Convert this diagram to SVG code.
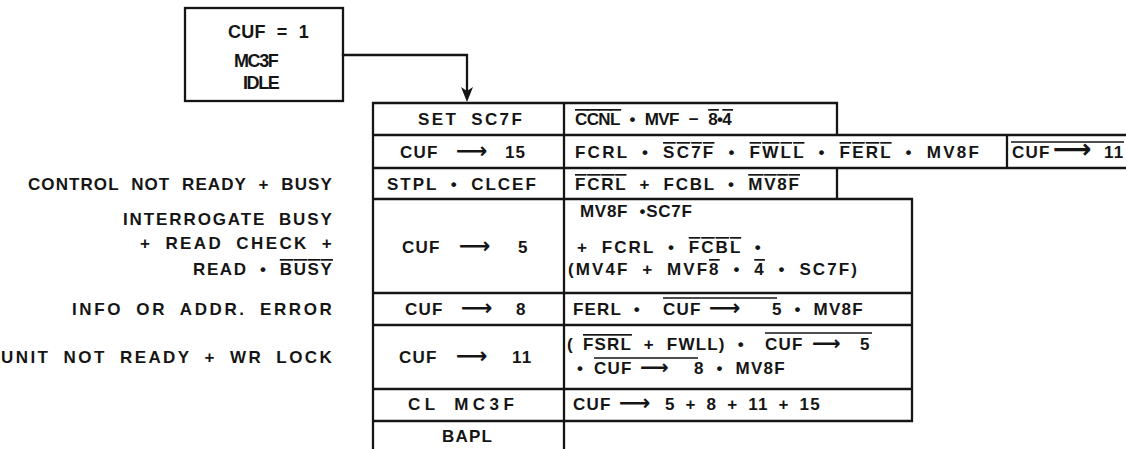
<svg xmlns="http://www.w3.org/2000/svg" width="1126" height="449" viewBox="0 0 1126 449">
<style>
.t{font-family:"Liberation Sans",Arial,sans-serif;font-weight:bold;font-size:17px;fill:#151515;letter-spacing:1.2px;word-spacing:6px}
.tb{font-size:18px}
.n{word-spacing:0}
.ar{font-family:"DejaVu Sans",sans-serif;font-weight:bold;font-size:22px;letter-spacing:0;word-spacing:0}
.b{fill:none;stroke:#151515;stroke-width:2.3;stroke-linecap:square}
.ov{stroke:#151515;stroke-width:1.7}
.o{text-decoration:overline}
</style>
<rect width="1126" height="449" fill="#fff"/>
<g id="start">
<rect class="b" x="185" y="8" width="158" height="93"/>
<text class="t tb" x="228" y="38" textLength="82" lengthAdjust="spacing">CUF = 1</text>
<text class="t tb" x="234" y="67" textLength="46" lengthAdjust="spacing">MC3F</text>
<text class="t tb" x="243" y="89" textLength="38" lengthAdjust="spacing">IDLE</text>
</g>
<g id="connectors">
<path class="b" d="M343,55 H467 V90"/>
<polygon points="467,102 461,87 467,91 473,87" fill="#151515"/>
</g>
<g id="table">
<path class="b" d="M373,103 V449 M564,103 V449 M373,103 H837 V135 M373,135 H1126 M373,168 H1126 M1007,135 V168 M837,168 V199 M373,199 H912 V421 M373,293 H912 M373,325 H912 M373,389 H912 M373,421 H912"/>
</g>
<g id="row-setsc7f">
<text class="t" x="418" y="125" textLength="105" lengthAdjust="spacing">SET SC7F</text>
<text class="t" x="575" y="125" textLength="158" lengthAdjust="spacing"><tspan class="o">CCNL</tspan> • MVF − <tspan class="o">8</tspan>•<tspan class="o">4</tspan></text>
</g>
<g id="row-cuf15">
<text class="t" y="158"><tspan class="n" x="400">CUF </tspan><tspan class="ar" x="456">⟶</tspan><tspan class="n" x="499"> 15</tspan></text>
<text class="t" x="575" y="158" textLength="405" lengthAdjust="spacing">FCRL • <tspan class="o">SC7F</tspan> • <tspan class="o">FWLL</tspan> • <tspan class="o">FERL</tspan> • MV8F</text>
<text class="t" y="158"><tspan class="n" x="1012">CUF</tspan><tspan class="ar" x="1053" style="font-size:27px">⟶</tspan><tspan class="n" x="1104">11</tspan></text>
<line class="ov" x1="1011" y1="142" x2="1124" y2="142"/>
</g>
<g id="row-stpl">
<text class="t" x="387" y="190" textLength="150" lengthAdjust="spacing">STPL • CLCEF</text>
<text class="t" x="575" y="190" textLength="225" lengthAdjust="spacing"><tspan class="o">FCRL</tspan> + FCBL • <tspan class="o">MV8F</tspan></text>
</g>
<g id="row-cuf5">
<text class="t" y="253"><tspan class="n" x="402">CUF </tspan><tspan class="ar" x="459">⟶</tspan><tspan class="n" x="512"> 5</tspan></text>
<text class="t" x="580" y="217" textLength="113" lengthAdjust="spacing">MV8F •SC7F</text>
<text class="t" x="577" y="253" textLength="185" lengthAdjust="spacing">+ FCRL • <tspan class="o">FCBL</tspan> •</text>
<text class="t" x="568" y="275" textLength="290" lengthAdjust="spacing">(MV4F + MVF<tspan class="o">8</tspan> • <tspan class="o">4</tspan> • SC7F)</text>
</g>
<g id="row-cuf8">
<text class="t" y="315"><tspan class="n" x="405">CUF </tspan><tspan class="ar" x="461">⟶</tspan><tspan class="n" x="510"> 8</tspan></text>
<text class="t" y="315"><tspan x="573">FERL • </tspan><tspan class="n" x="663">CUF </tspan><tspan class="ar" x="709">⟶</tspan><tspan x="760"> 5 • MV8F</tspan></text>
<line class="ov" x1="663" y1="298" x2="777" y2="298"/>
</g>
<g id="row-cuf11">
<text class="t" y="363"><tspan class="n" x="399">CUF </tspan><tspan class="ar" x="456">⟶</tspan><tspan class="n" x="506"> 11</tspan></text>
<text class="t" y="350"><tspan class="n" x="567">( </tspan><tspan x="583" class="o">FSRL</tspan> + FWLL) • <tspan class="n" x="765">CUF </tspan><tspan class="ar" x="812" style="font-size:20px">⟶</tspan><tspan class="n" x="854"> 5</tspan></text>
<line class="ov" x1="765" y1="333" x2="872" y2="333"/>
<text class="t" y="374"><tspan class="n" x="577">• </tspan><tspan class="n" x="594">CUF </tspan><tspan class="ar" x="640" style="font-size:20px">⟶</tspan><tspan x="682"> 8 • MV8F</tspan></text>
<line class="ov" x1="594" y1="358" x2="698" y2="358"/>
</g>
<g id="row-clmc3f">
<text class="t" x="408" y="410" textLength="107" lengthAdjust="spacing">CL MC3F</text>
<text class="t" y="410"><tspan class="n" x="573">CUF </tspan><tspan class="ar" x="619">⟶</tspan><tspan x="655" style="word-spacing:4px"> 5 + 8 + 11 + 15</tspan></text>
</g>
<g id="row-bapl">
<text class="t" x="442" y="442" textLength="51" lengthAdjust="spacing">BAPL</text>
</g>
<g id="labels">
<text class="t" x="28" y="190" textLength="305" lengthAdjust="spacing">CONTROL NOT READY + BUSY</text>
<text class="t" x="123" y="225" textLength="210" lengthAdjust="spacing">INTERROGATE BUSY</text>
<text class="t" x="140" y="249" textLength="193" lengthAdjust="spacing">+ READ CHECK +</text>
<text class="t" x="193" y="275" textLength="140" lengthAdjust="spacing">READ • <tspan class="o">BUSY</tspan></text>
<text class="t" x="72" y="315" textLength="261" lengthAdjust="spacing">INFO OR ADDR. ERROR</text>
<text class="t" x="1" y="363" textLength="332" lengthAdjust="spacing">UNIT NOT READY + WR LOCK</text>
</g>
</svg>
